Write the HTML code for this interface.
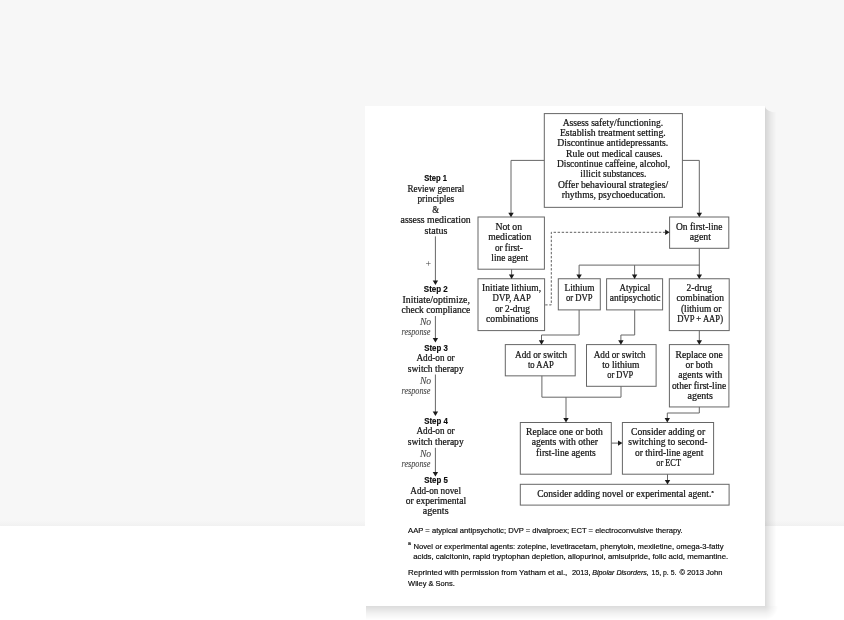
<!DOCTYPE html>
<html lang="en"><head><meta charset="utf-8"><title>Figure</title>
<style>
html,body{margin:0;padding:0;}
body{width:844px;height:620px;overflow:hidden;background:#fff;position:relative;font-family:"Liberation Sans", sans-serif;}
.top{position:absolute;left:0;top:0;width:844px;height:526px;background:linear-gradient(to bottom,#f7f7f7 0,#f7f7f7 520px,#f1f1f1 526px);}
.card{position:absolute;left:365px;top:106px;width:400px;height:500px;background:#fff;}
svg{position:absolute;left:0;top:0;will-change:transform;}
.bx{fill:#fff;stroke:#666;stroke-width:1;}
.ln{fill:none;stroke:#666;stroke-width:1;}
.ds{fill:none;stroke:#606060;stroke-width:1;stroke-dasharray:2.4 1.65;}
.ah{fill:#1a1a1a;stroke:none;}
.t{font-family:"Liberation Serif", serif;font-size:9.3px;fill:#141414;stroke:#141414;stroke-width:0.22px;}
.p{font-family:"Liberation Serif", serif;font-size:10px;fill:#444;}
.b{font-family:"Liberation Sans", sans-serif;font-weight:bold;font-size:8.8px;fill:#0a0a0a;stroke:#0a0a0a;stroke-width:0.15px;}
.i{font-family:"Liberation Serif", serif;font-style:italic;font-size:9.3px;fill:#484848;stroke:#484848;stroke-width:0.1px;}
.f{font-family:"Liberation Sans", sans-serif;font-size:7.9px;fill:#0a0a0a;stroke:#0a0a0a;stroke-width:0.18px;}
.fi{font-family:"Liberation Sans", sans-serif;font-style:italic;font-size:7.9px;fill:#0a0a0a;stroke:#0a0a0a;stroke-width:0.18px;}
</style></head>
<body>
<div class="top"></div>
<div class="card"></div>
<svg width="844" height="620" viewBox="0 0 844 620">
<defs>
<linearGradient id="gr" x1="0" y1="0" x2="1" y2="0"><stop offset="0" stop-color="#000" stop-opacity="0.14"/><stop offset="0.5" stop-color="#000" stop-opacity="0.055"/><stop offset="1" stop-color="#000" stop-opacity="0"/></linearGradient>
<linearGradient id="gb" x1="0" y1="0" x2="0" y2="1"><stop offset="0" stop-color="#000" stop-opacity="0.14"/><stop offset="0.5" stop-color="#000" stop-opacity="0.055"/><stop offset="1" stop-color="#000" stop-opacity="0"/></linearGradient>
<radialGradient id="gc" cx="0" cy="0" r="1"><stop offset="0" stop-color="#000" stop-opacity="0.14"/><stop offset="0.5" stop-color="#000" stop-opacity="0.055"/><stop offset="1" stop-color="#000" stop-opacity="0"/></radialGradient>
</defs>
<path d="M765 106 A11.5 6.5 0 0 0 776.5 112.5 L776.5 606 L765 606 Z" fill="url(#gr)"/>
<rect x="366" y="606" width="399" height="14" fill="url(#gb)"/>
<rect x="765" y="606" width="13" height="14" fill="url(#gc)"/>
<rect x="544.3" y="113.6" width="138.10" height="93.75" class="bx"/>
<rect x="478.0" y="217.0" width="66.40" height="52.20" class="bx"/>
<rect x="669.6" y="217.0" width="59.20" height="31.30" class="bx"/>
<rect x="478.0" y="278.75" width="66.60" height="51.85" class="bx"/>
<rect x="558.3" y="278.75" width="42.00" height="31.15" class="bx"/>
<rect x="606.6" y="278.75" width="56.00" height="31.15" class="bx"/>
<rect x="669.3" y="278.75" width="59.90" height="51.85" class="bx"/>
<rect x="505.3" y="344.6" width="69.90" height="31.25" class="bx"/>
<rect x="586.5" y="344.6" width="69.60" height="41.70" class="bx"/>
<rect x="669.4" y="344.6" width="59.50" height="62.35" class="bx"/>
<rect x="520.3" y="422.5" width="91.00" height="51.70" class="bx"/>
<rect x="622.4" y="422.5" width="91.20" height="51.70" class="bx"/>
<rect x="520.3" y="484.3" width="208.80" height="20.80" class="bx"/>
<path d="M544.3 160.4 L511.0 160.4 L511.0 214" class="ln"/>
<path d="M508.30 212.70 L513.70 212.70 L511.0 217.2 Z" class="ah"/>
<path d="M682.4 160.4 L699.3 160.4 L699.3 214" class="ln"/>
<path d="M696.60 212.70 L702.00 212.70 L699.3 217.2 Z" class="ah"/>
<path d="M511.6 269.2 L511.6 276" class="ln"/>
<path d="M508.90 274.40 L514.30 274.40 L511.6 278.9 Z" class="ah"/>
<path d="M699.3 248.3 L699.3 276" class="ln"/>
<path d="M696.60 274.40 L702.00 274.40 L699.3 278.9 Z" class="ah"/>
<path d="M699.3 265.1 L579.1 265.1 L579.1 276" class="ln"/>
<path d="M576.40 274.40 L581.80 274.40 L579.1 278.9 Z" class="ah"/>
<path d="M634.6 265.1 L634.6 276" class="ln"/>
<path d="M631.90 274.40 L637.30 274.40 L634.6 278.9 Z" class="ah"/>
<path d="M545.2 304.9 L551.3 304.9 L551.3 232.3 L666 232.3" class="ds"/>
<path d="M665.10 229.60 L665.10 235.00 L669.6 232.3 Z" class="ah"/>
<path d="M579.1 309.9 L579.1 335.0 L541.5 335.0 L541.5 341" class="ln"/>
<path d="M538.80 340.20 L544.20 340.20 L541.5 344.7 Z" class="ah"/>
<path d="M634.7 309.9 L634.7 335.0 L620.9 335.0 L620.9 341" class="ln"/>
<path d="M618.20 340.20 L623.60 340.20 L620.9 344.7 Z" class="ah"/>
<path d="M699.3 330.6 L699.3 341" class="ln"/>
<path d="M696.60 340.20 L702.00 340.20 L699.3 344.7 Z" class="ah"/>
<path d="M541.9 375.85 L541.9 397.2 L621.0 397.2 L621.0 386.3" class="ln"/>
<path d="M566.0 397.2 L566.0 419" class="ln"/>
<path d="M563.30 418.10 L568.70 418.10 L566.0 422.6 Z" class="ah"/>
<path d="M699.3 406.95 L699.3 413.0 L667.3 413.0 L667.3 419" class="ln"/>
<path d="M664.60 418.10 L670.00 418.10 L667.3 422.6 Z" class="ah"/>
<path d="M611.3 443.1 L619 443.1" class="ln"/>
<path d="M618.00 440.40 L618.00 445.80 L622.5 443.1 Z" class="ah"/>
<path d="M667.5 474.2 L667.5 481" class="ln"/>
<path d="M664.80 479.90 L670.20 479.90 L667.5 484.4 Z" class="ah"/>
<path d="M435.4 236.4 L435.4 281" class="ln"/>
<path d="M432.70 280.40 L438.10 280.40 L435.4 284.9 Z" class="ah"/>
<path d="M435.4 316.1 L435.4 338" class="ln"/>
<path d="M432.70 337.90 L438.10 337.90 L435.4 342.4 Z" class="ah"/>
<path d="M435.4 374.5 L435.4 412" class="ln"/>
<path d="M432.70 411.40 L438.10 411.40 L435.4 415.9 Z" class="ah"/>
<path d="M435.4 447.8 L435.4 472" class="ln"/>
<path d="M432.70 472.00 L438.10 472.00 L435.4 476.5 Z" class="ah"/>
<text x="562.7" y="125.8" class="t" textLength="100.5" lengthAdjust="spacingAndGlyphs">Assess safety/functioning.</text>
<text x="559.9" y="136.1" class="t" textLength="105.9" lengthAdjust="spacingAndGlyphs">Establish treatment setting.</text>
<text x="557.2" y="146.4" class="t" textLength="111.1" lengthAdjust="spacingAndGlyphs">Discontinue antidepressants.</text>
<text x="566.1" y="156.7" class="t" textLength="96.5" lengthAdjust="spacingAndGlyphs">Rule out medical causes.</text>
<text x="557.0" y="167.0" class="t" textLength="113.0" lengthAdjust="spacingAndGlyphs">Discontinue caffeine, alcohol,</text>
<text x="580.3" y="177.4" class="t" textLength="66.2" lengthAdjust="spacingAndGlyphs">illicit substances.</text>
<text x="557.9" y="187.8" class="t" textLength="110.2" lengthAdjust="spacingAndGlyphs">Offer behavioural strategies/</text>
<text x="561.8" y="198.2" class="t" textLength="103.7" lengthAdjust="spacingAndGlyphs">rhythms, psychoeducation.</text>
<text x="495.4" y="229.8" class="t" textLength="26.7" lengthAdjust="spacingAndGlyphs">Not on</text>
<text x="488.3" y="240.1" class="t" textLength="43.0" lengthAdjust="spacingAndGlyphs">medication</text>
<text x="494.9" y="250.6" class="t" textLength="27.9" lengthAdjust="spacingAndGlyphs">or first-</text>
<text x="491.3" y="260.9" class="t" textLength="36.8" lengthAdjust="spacingAndGlyphs">line agent</text>
<text x="676.0" y="229.8" class="t" textLength="46.5" lengthAdjust="spacingAndGlyphs">On first-line</text>
<text x="689.7" y="240.1" class="t" textLength="21.3" lengthAdjust="spacingAndGlyphs">agent</text>
<text x="482.1" y="290.7" class="t" textLength="59.0" lengthAdjust="spacingAndGlyphs">Initiate lithium,</text>
<text x="492.6" y="301.0" class="t" textLength="38.2" lengthAdjust="spacingAndGlyphs">DVP, AAP</text>
<text x="494.9" y="311.5" class="t" textLength="35.0" lengthAdjust="spacingAndGlyphs">or 2-drug</text>
<text x="486.0" y="321.8" class="t" textLength="52.4" lengthAdjust="spacingAndGlyphs">combinations</text>
<text x="564.5" y="290.7" class="t" textLength="29.9" lengthAdjust="spacingAndGlyphs">Lithium</text>
<text x="566.0" y="301.0" class="t" textLength="26.6" lengthAdjust="spacingAndGlyphs">or DVP</text>
<text x="619.5" y="290.7" class="t" textLength="30.6" lengthAdjust="spacingAndGlyphs">Atypical</text>
<text x="609.8" y="301.0" class="t" textLength="50.6" lengthAdjust="spacingAndGlyphs">antipsychotic</text>
<text x="686.5" y="290.7" class="t" textLength="25.5" lengthAdjust="spacingAndGlyphs">2-drug</text>
<text x="676.4" y="301.0" class="t" textLength="47.5" lengthAdjust="spacingAndGlyphs">combination</text>
<text x="680.9" y="311.5" class="t" textLength="40.5" lengthAdjust="spacingAndGlyphs">(lithium or</text>
<text x="677.3" y="321.8" class="t" textLength="45.7" lengthAdjust="spacingAndGlyphs">DVP + AAP)</text>
<text x="515.1" y="357.5" class="t" textLength="52.1" lengthAdjust="spacingAndGlyphs">Add or switch</text>
<text x="527.9" y="367.9" class="t" textLength="25.9" lengthAdjust="spacingAndGlyphs">to AAP</text>
<text x="593.7" y="357.5" class="t" textLength="52.0" lengthAdjust="spacingAndGlyphs">Add or switch</text>
<text x="602.2" y="367.9" class="t" textLength="37.3" lengthAdjust="spacingAndGlyphs">to lithium</text>
<text x="607.2" y="378.3" class="t" textLength="26.1" lengthAdjust="spacingAndGlyphs">or DVP</text>
<text x="675.6" y="357.5" class="t" textLength="47.1" lengthAdjust="spacingAndGlyphs">Replace one</text>
<text x="685.4" y="367.9" class="t" textLength="27.5" lengthAdjust="spacingAndGlyphs">or both</text>
<text x="678.3" y="378.3" class="t" textLength="43.9" lengthAdjust="spacingAndGlyphs">agents with</text>
<text x="671.9" y="388.6" class="t" textLength="54.4" lengthAdjust="spacingAndGlyphs">other first-line</text>
<text x="687.5" y="398.9" class="t" textLength="25.4" lengthAdjust="spacingAndGlyphs">agents</text>
<text x="526.0" y="434.9" class="t" textLength="76.9" lengthAdjust="spacingAndGlyphs">Replace one or both</text>
<text x="531.7" y="445.2" class="t" textLength="66.3" lengthAdjust="spacingAndGlyphs">agents with other</text>
<text x="536.1" y="455.5" class="t" textLength="59.7" lengthAdjust="spacingAndGlyphs">first-line agents</text>
<text x="631.0" y="434.9" class="t" textLength="74.1" lengthAdjust="spacingAndGlyphs">Consider adding or</text>
<text x="628.3" y="445.2" class="t" textLength="79.1" lengthAdjust="spacingAndGlyphs">switching to second-</text>
<text x="634.9" y="455.5" class="t" textLength="68.4" lengthAdjust="spacingAndGlyphs">or third-line agent</text>
<text x="656.2" y="466.0" class="t" textLength="24.9" lengthAdjust="spacingAndGlyphs">or ECT</text>
<text x="537.2" y="496.8" class="t" textLength="174.1" lengthAdjust="spacingAndGlyphs">Consider adding novel or experimental agent.</text>
<text x="711.5" y="493.3" class="t" style="font-size:4.8px">a</text>
<text x="424.2" y="181.3" class="b" textLength="22.8" lengthAdjust="spacingAndGlyphs">Step 1</text>
<text x="407.4" y="191.8" class="t" textLength="56.9" lengthAdjust="spacingAndGlyphs">Review general</text>
<text x="417.4" y="201.9" class="t" textLength="36.8" lengthAdjust="spacingAndGlyphs">principles</text>
<text x="432.3" y="212.7" class="t" textLength="6.8" lengthAdjust="spacingAndGlyphs">&amp;</text>
<text x="400.6" y="223.1" class="t" textLength="70.2" lengthAdjust="spacingAndGlyphs">assess medication</text>
<text x="424.6" y="233.6" class="t" textLength="22.8" lengthAdjust="spacingAndGlyphs">status</text>
<text x="428.2" y="267.0" class="p" text-anchor="middle">+</text>
<text x="423.8" y="291.7" class="b" textLength="24.0" lengthAdjust="spacingAndGlyphs">Step 2</text>
<text x="402.5" y="302.5" class="t" textLength="67.4" lengthAdjust="spacingAndGlyphs">Initiate/optimize,</text>
<text x="401.5" y="313.0" class="t" textLength="68.8" lengthAdjust="spacingAndGlyphs">check compliance</text>
<text x="419.9" y="325.2" class="i" textLength="11.3" lengthAdjust="spacingAndGlyphs">No</text>
<text x="401.5" y="335.2" class="i" textLength="28.9" lengthAdjust="spacingAndGlyphs">response</text>
<text x="424.2" y="350.7" class="b" textLength="23.6" lengthAdjust="spacingAndGlyphs">Step 3</text>
<text x="416.4" y="361.4" class="t" textLength="38.2" lengthAdjust="spacingAndGlyphs">Add-on or</text>
<text x="407.7" y="371.8" class="t" textLength="56.0" lengthAdjust="spacingAndGlyphs">switch therapy</text>
<text x="419.9" y="383.8" class="i" textLength="11.3" lengthAdjust="spacingAndGlyphs">No</text>
<text x="401.5" y="394.0" class="i" textLength="28.9" lengthAdjust="spacingAndGlyphs">response</text>
<text x="424.2" y="424.0" class="b" textLength="23.6" lengthAdjust="spacingAndGlyphs">Step 4</text>
<text x="416.4" y="434.3" class="t" textLength="38.2" lengthAdjust="spacingAndGlyphs">Add-on or</text>
<text x="407.7" y="444.9" class="t" textLength="56.0" lengthAdjust="spacingAndGlyphs">switch therapy</text>
<text x="419.9" y="456.9" class="i" textLength="11.3" lengthAdjust="spacingAndGlyphs">No</text>
<text x="401.5" y="467.2" class="i" textLength="28.9" lengthAdjust="spacingAndGlyphs">response</text>
<text x="424.2" y="483.2" class="b" textLength="23.6" lengthAdjust="spacingAndGlyphs">Step 5</text>
<text x="410.3" y="493.7" class="t" textLength="50.7" lengthAdjust="spacingAndGlyphs">Add-on novel</text>
<text x="405.8" y="504.1" class="t" textLength="60.4" lengthAdjust="spacingAndGlyphs">or experimental</text>
<text x="422.8" y="514.2" class="t" textLength="25.8" lengthAdjust="spacingAndGlyphs">agents</text>
<text x="408.1" y="533.4" class="f" textLength="274.6" lengthAdjust="spacingAndGlyphs">AAP = atypical antipsychotic; DVP = divalproex; ECT = electroconvulsive therapy.</text>
<text x="408.1" y="545.3" class="f" style="font-size:5.2px">a</text>
<text x="413.5" y="548.6" class="f" textLength="310.0" lengthAdjust="spacingAndGlyphs">Novel or experimental agents: zotepine, levetiracetam, phenytoin, mexiletine, omega-3-fatty</text>
<text x="413.2" y="558.9" class="f" textLength="315.0" lengthAdjust="spacingAndGlyphs">acids, calcitonin, rapid tryptophan depletion, allopurinol, amisulpride, folic acid, memantine.</text>
<text x="408.1" y="575.0" class="f" textLength="159.2" lengthAdjust="spacingAndGlyphs">Reprinted with permission from Yatham et al.,</text>
<text x="571.9" y="575.0" class="f" textLength="18.7" lengthAdjust="spacingAndGlyphs">2013,</text>
<text x="592.3" y="575.0" class="fi" textLength="56.5" lengthAdjust="spacingAndGlyphs">Bipolar Disorders,</text>
<text x="651.6" y="575.0" class="f" textLength="24.8" lengthAdjust="spacingAndGlyphs">15, p. 5.</text>
<text x="679.4" y="575.0" class="f" textLength="43.1" lengthAdjust="spacingAndGlyphs">© 2013 John</text>
<text x="408.1" y="585.5" class="f" textLength="46.7" lengthAdjust="spacingAndGlyphs">Wiley &amp; Sons.</text>
</svg>
</body></html>
